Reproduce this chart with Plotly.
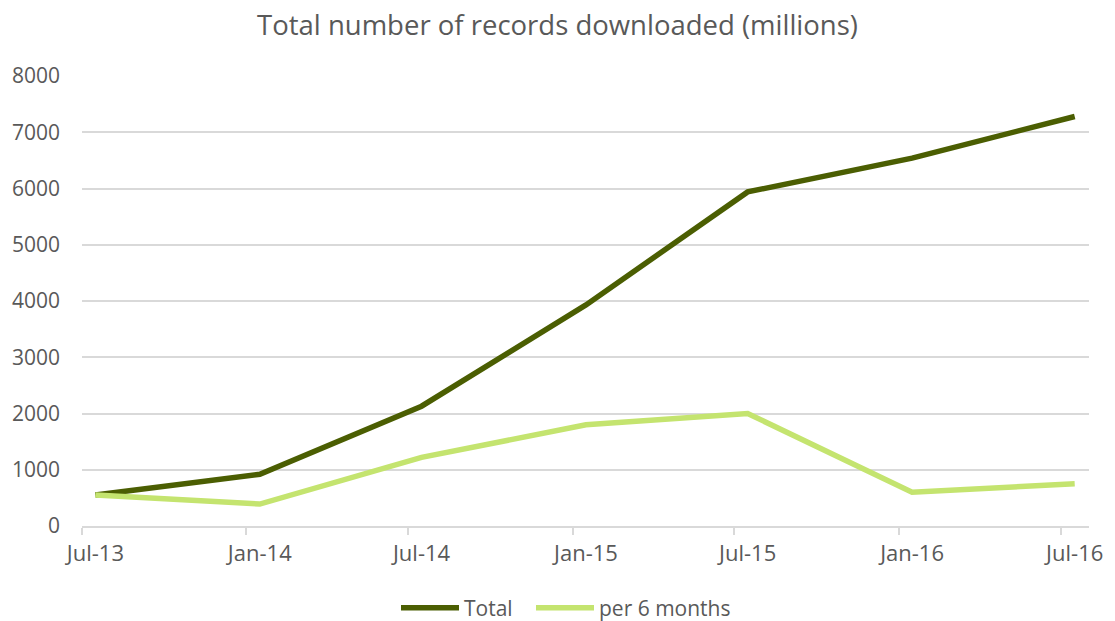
import plotly.graph_objects as go

# Half-yearly figures (millions of records)
periods = ["2013-07", "2014-01", "2014-07", "2015-01", "2015-07", "2016-01", "2016-07"]
tick_labels = ["Jul-13", "Jan-14", "Jul-14", "Jan-15", "Jul-15", "Jan-16", "Jul-16"]
total = [550, 920, 2130, 3930, 5940, 6540, 7280]
per_6_months = [550, 390, 1220, 1800, 2000, 600, 750]

# Points sit in the middle of their month; tick marks on month boundaries
mid_month = [p + "-16" for p in periods]
month_start = [p + "-01" for p in periods]

DARK = "#4B5E02"
LIGHT = "#C4E46F"
TEXT = "#595959"
GRID = "#D9D9D9"
FONT = "Open Sans"

fig = go.Figure()
fig.add_trace(go.Scatter(x=mid_month, y=total, name="Total", mode="lines",
                         line=dict(color=DARK, width=5.5), xaxis="x",
                         legend="legend"))
fig.add_trace(go.Scatter(x=mid_month, y=per_6_months, name="per 6 months", mode="lines",
                         line=dict(color=LIGHT, width=5.5), xaxis="x2",
                         legend="legend2"))

xrange = ["2013-07-01", "2016-08-01"]

legend_style = dict(orientation="h", xref="container", yref="container",
                    xanchor="left", y=1 - 608 / 621, yanchor="middle",
                    font=dict(size=21, color=TEXT), itemwidth=58,
                    bgcolor="rgba(0,0,0,0)")

fig.update_layout(
    width=1115, height=621,
    margin=dict(l=82, r=18, t=76, b=95),
    paper_bgcolor="white", plot_bgcolor="white",
    font=dict(family=FONT, color=TEXT),
    title=dict(text="Total number of records downloaded (millions)",
               x=0.5, xanchor="center", y=1 - 25 / 621, yanchor="middle",
               yref="container", font=dict(size=27.5, color=TEXT, family=FONT)),
    xaxis=dict(type="date", range=xrange, tickmode="array", tickvals=month_start,
               showticklabels=False, ticks="outside", ticklen=7, tickcolor=GRID,
               tickwidth=1.5, showline=True, linecolor=GRID, linewidth=1.5,
               showgrid=False, zeroline=False),
    xaxis2=dict(type="date", range=xrange, overlaying="x", side="bottom",
                tickmode="array", tickvals=mid_month, ticktext=tick_labels,
                ticks="", showline=False, showgrid=False, zeroline=False,
                tickfont=dict(size=22, color=TEXT), ticklabelstandoff=12),
    yaxis=dict(range=[0, 8000], tickvals=list(range(0, 8001, 1000)),
               showgrid=True, gridcolor=GRID, gridwidth=1.5, zeroline=False,
               showline=False, tickfont=dict(size=21, color=TEXT), ticks="",
               ticklabelstandoff=21),
    legend=dict(x=396 / 1115, **legend_style),
    legend2=dict(x=531 / 1115, **legend_style),
    showlegend=True,
)

fig.write_html("out.html")
